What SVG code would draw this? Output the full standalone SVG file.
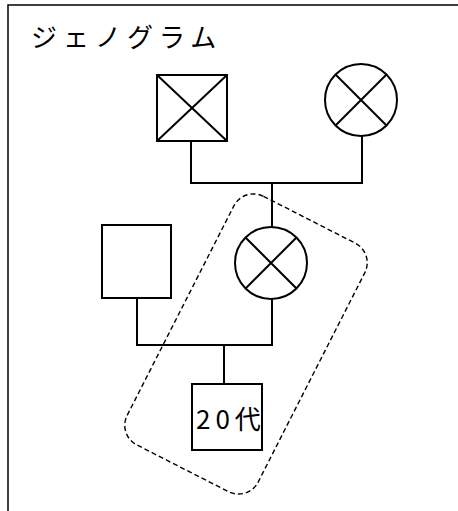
<svg xmlns="http://www.w3.org/2000/svg" width="458" height="511" viewBox="0 0 458 511">
<style>
.s{fill:#fff;stroke:#000;stroke-width:2}
.x{stroke:#000;stroke-width:2;fill:none}
.c{fill:none;stroke:#000;stroke-width:2}
.t{font-family:"Noto Sans CJK JP","Noto Sans",sans-serif;fill:#000}
</style>
<rect x="0" y="0" width="458" height="511" fill="#fff"/>
<rect id="frame" x="8" y="5" width="470" height="530" fill="none" stroke="#000" stroke-width="1.5"/>
<text id="title" class="t" x="31" y="47" font-size="26" letter-spacing="6">ジェノグラム</text>
<g id="connectors">
<path class="c" d="M191,141 V183 H362 V136 M272,183 V227 M137,298 V345 H272 V299 M224,345 V384"/>
</g>
<g id="grandfather">
<rect class="s" x="157" y="75" width="70" height="66"/>
<path class="x" d="M157,75 L227,141 M227,75 L157,141"/>
</g>
<g id="grandmother">
<circle class="s" cx="361" cy="100" r="36"/>
<path class="x" d="M335.5,74.5 L386.5,125.5 M386.5,74.5 L335.5,125.5"/>
</g>
<g id="father">
<rect class="s" x="102" y="225" width="69" height="73"/>
</g>
<g id="mother">
<circle class="s" cx="271" cy="263" r="36"/>
<path class="x" d="M245.5,237.5 L296.5,288.5 M296.5,237.5 L245.5,288.5"/>
</g>
<g id="child">
<rect class="s" x="192" y="384" width="70" height="66"/>
<text class="t" x="196" y="429" font-size="26" letter-spacing="5">20代</text>
</g>
<g id="household">
<rect x="172.5" y="204.5" width="147" height="279" rx="22" fill="none" stroke="#000" stroke-width="1.4" stroke-dasharray="5,3" transform="rotate(27 246 344)"/>
</g>
</svg>
